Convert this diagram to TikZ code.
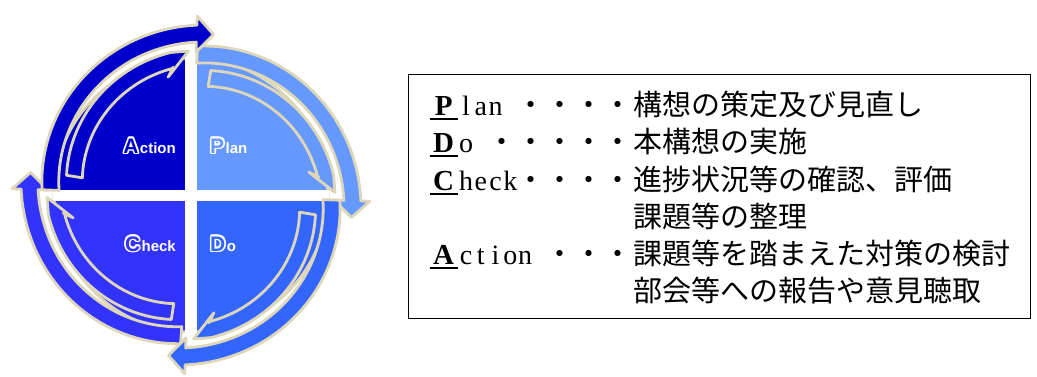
\documentclass[tikz,border=0pt]{standalone}
\usepackage{fontspec}
\setmainfont{Liberation Serif}
\newfontfamily\cjk{Noto Sans CJK JP}
\newfontfamily\lserif{Liberation Serif}
\newfontfamily\lsans{Liberation Sans}
\usetikzlibrary{calc}

\definecolor{cAct}{RGB}{0,0,204}
\definecolor{cPlan}{RGB}{102,153,255}
\definecolor{cDo}{RGB}{51,102,255}
\definecolor{cChk}{RGB}{51,51,255}
\definecolor{beige}{RGB}{222,214,184}

\tikzset{
  glow/.style={draw=beige, line width=2.8pt, line join=round},
  lblsmall/.style={font=\lsans\bfseries\fontsize{15}{15}\selectfont, text=white, inner sep=0pt},
  lblbig/.style={font=\lsans\bfseries\fontsize{21}{21}\selectfont, inner sep=0pt},
  jp/.style={font=\cjk\fontsize{29}{29}\selectfont, inner sep=0pt, anchor=base west},
  jpdots/.style={font=\cjk\fontsize{29}{29}\selectfont, inner sep=0pt, anchor=base east},
  firstl/.style={inner sep=0pt, anchor=base west},
  halfw/.style={font=\lserif\fontsize{28}{28}\selectfont, inner sep=0pt, anchor=base west},
  frame/.style={draw, line width=1.4pt, inner sep=0pt, anchor=north west}
}

% outlined letter: white outline, coloured fill
\newcommand\outl[2]{{%
  \setbox0=\hbox{#2}%
  \rlap{\color{white}\raisebox{1.6pt}{\copy0}}%
  \rlap{\color{white}\raisebox{-1.6pt}{\copy0}}%
  \rlap{\color{white}\kern1.6pt\copy0}%
  \rlap{\color{white}\kern-1.6pt\copy0}%
  \rlap{\color{white}\kern1.13pt\raisebox{1.13pt}{\copy0}}%
  \rlap{\color{white}\kern-1.13pt\raisebox{1.13pt}{\copy0}}%
  \rlap{\color{white}\kern1.13pt\raisebox{-1.13pt}{\copy0}}%
  \rlap{\color{white}\kern-1.13pt\raisebox{-1.13pt}{\copy0}}%
  \textcolor{#1}{\copy0}}}

% full-width bold first letter with underline
\newcommand\fl[1]{\makebox[29pt][c]{\rlap{\kern0.5pt\rule[-5pt]{28pt}{2.2pt}}\hfill{\lserif\bfseries\fontsize{29}{29}\selectfont #1}\hfill}}
% half-width character cell
\newcommand\hw[1]{\makebox[14.8pt][c]{#1}}

% outer spiral arrow: colour, start angle, head-base angle, tip angle
\newcommand\outerarr[4]{%
  \filldraw[glow, fill=#1]
    plot[domain=#2:#3, samples=46, variable=\t] (\t:{149+21*((#2)-\t)/((#2)-(#3))})
    -- (#3:179) -- (#4:162) -- (#3:143)
    -- plot[domain=#3:#2, samples=46, variable=\t] (\t:{132+21*((#2)-\t)/((#2)-(#3))})
    -- cycle;}

% inner half-barb arrow: colour, tail angle, notch angle
\newcommand\innerarr[3]{%
  \filldraw[glow, fill=#1]
    plot[domain=#2:#3, samples=40, variable=\t] (\t:{126+18*((#2)-\t)/((#2)-(#3))})
    -- ({(#3)-7}:144) -- ({(#3)+3}:120) -- (#3:129)
    -- plot[domain=#3:#2, samples=40, variable=\t] (\t:{110+18*((#2)-\t)/((#2)-(#3))})
    -- cycle;}

\begin{document}
\begin{tikzpicture}[x=1pt,y=-1pt]
\useasboundingbox (0,0) rectangle (1037,376);

\begin{scope}[shift={(191,195)}, yscale=-1]
  % quadrants
  \filldraw[glow, fill=cPlan] (0,0) -- plot[domain=0:90, samples=40, variable=\t] (\t:137) -- cycle;
  \filldraw[glow, fill=cAct]  (0,0) -- plot[domain=90:180, samples=40, variable=\t] (\t:137) -- cycle;
  \filldraw[glow, fill=cChk]  (0,0) -- plot[domain=180:270, samples=40, variable=\t] (\t:137) -- cycle;
  \filldraw[glow, fill=cDo]   (0,0) -- plot[domain=270:360, samples=40, variable=\t] (\t:137) -- cycle;
  % white cross
  \fill[white] (-6,-143) rectangle (6,142);
  \fill[white] (-138,-5.5) rectangle (138,5.5);
  % inner arrows
  \innerarr{cAct}{171}{98}
  \innerarr{cPlan}{81}{8}
  \innerarr{cDo}{-9}{-82}
  \innerarr{cChk}{261}{188}
  % outer arrows
  \outerarr{cPlan}{87.5}{-2}{-8}
  \outerarr{cDo}{-2}{-92}{-98}
  \outerarr{cChk}{266}{178}{172}
  \outerarr{cAct}{178}{88}{82}
\end{scope}

% quadrant labels
\node[lblsmall, anchor=base east] (actS) at (176,153) {ction};
\node[lblbig, anchor=base east] (actB) at ([xshift=-1pt]actS.base west) {\outl{cAct}{A}};
\node[lblbig, anchor=base west] (plnB) at (210,153) {\outl{cPlan}{P}};
\node[lblsmall, anchor=base west] (plnS) at ([xshift=1pt]plnB.base east) {lan};
\node[lblsmall, anchor=base east] (chkS) at (176,251) {heck};
\node[lblbig, anchor=base east] (chkB) at ([xshift=-1pt]chkS.base west) {\outl{cChk}{C}};
\node[lblbig, anchor=base west] (doB) at (210,251) {\outl{cDo}{D}};
\node[lblsmall, anchor=base west] (doS) at ([xshift=1pt]doB.base east) {o};

% legend box
\node[frame, minimum width=622pt, minimum height=244pt] (box) at (408,74) {};

\node[firstl] (l1a) at (429,115) {\fl{P}};
\node[halfw] (l1b) at (l1a.base east) {\hw{l}\hw{a}\hw{n}};
\node[jpdots] (l1c) at (633,115) {・・・・};
\node[jp] (l1d) at (633,115) {構想の策定及び見直し};

\node[firstl] (l2a) at (429,152) {\fl{D}};
\node[halfw] (l2b) at (l2a.base east) {\hw{o}};
\node[jpdots] (l2c) at (633,152) {・・・・・};
\node[jp] (l2d) at (633,152) {本構想の実施};

\node[firstl] (l3a) at (429,190) {\fl{C}};
\node[halfw] (l3b) at (l3a.base east) {\hw{h}\hw{e}\hw{c}\hw{k}};
\node[jpdots] (l3c) at (633,190) {・・・・};
\node[jp] (l3d) at (633,190) {進捗状況等の確認、評価};
\node[jp] (l4d) at (633,227) {課題等の整理};

\node[firstl] (l5a) at (429,264) {\fl{A}};
\node[halfw] (l5b) at (l5a.base east) {\hw{c}\hw{t}\hw{i}\hw{o}\hw{n}};
\node[jpdots] (l5c) at (633,264) {・・・};
\node[jp] (l5d) at (633,264) {課題等を踏まえた対策の検討};
\node[jp] (l6d) at (633,301) {部会等への報告や意見聴取};
\end{tikzpicture}
\end{document}
